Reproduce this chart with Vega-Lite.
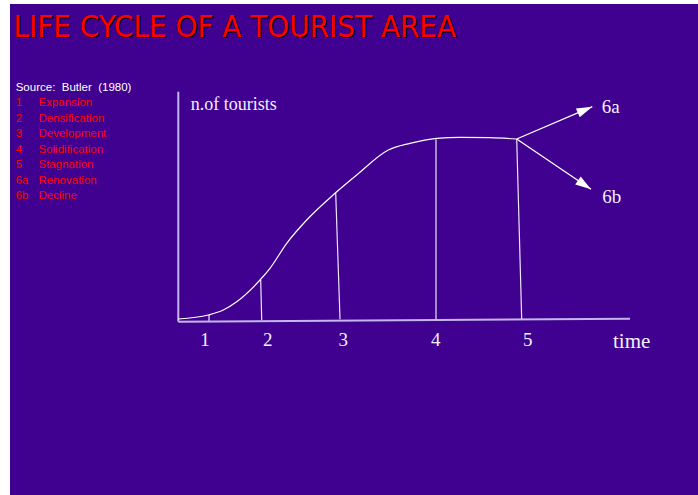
{
  "$schema": "https://vega.github.io/schema/vega-lite/v6.json",
  "width": 698,
  "height": 495,
  "autosize": {"type": "fit", "contains": "padding"},
  "padding": {"left": 10, "top": 4, "right": 0, "bottom": 0},
  "background": "#ffffff",
  "config": {"view": {"fill": "#400090", "stroke": null}},
  "datasets": {
    "axes": [
      {"x": 0.3, "y": -0.7, "x2": 0.3, "y2": 229.3},
      {"x": 0.3, "y": -0.7, "x2": 452, "y2": 2.3}
    ],
    "phases": [
      {"x": 31, "y": 0.3, "x2": 31, "y2": 6},
      {"x": 83.7, "y": 1, "x2": 82.7, "y2": 41},
      {"x": 162, "y": 1.7, "x2": 157.7, "y2": 128.3},
      {"x": 258, "y": 1.7, "x2": 258, "y2": 181.7},
      {"x": 343.7, "y": 2, "x2": 338.7, "y2": 182}
    ],
    "curve": [
      {"x": 0, "y": 2},
      {"x": 30.3, "y": 6},
      {"x": 45.3, "y": 11},
      {"x": 58.7, "y": 19.3},
      {"x": 82, "y": 41},
      {"x": 92, "y": 52.7},
      {"x": 108.7, "y": 77.7},
      {"x": 128.7, "y": 101},
      {"x": 157, "y": 127.7},
      {"x": 178.7, "y": 146},
      {"x": 210.3, "y": 171},
      {"x": 232, "y": 177.7},
      {"x": 258.7, "y": 182.7},
      {"x": 282, "y": 183.7},
      {"x": 312, "y": 183.3},
      {"x": 338.7, "y": 182}
    ],
    "arrows": [
      {"id": "6a", "x": 338.7, "y": 182, "x2": 414.3, "y2": 214.3},
      {"id": "6b", "x": 338.7, "y": 182, "x2": 413, "y2": 131.7}
    ],
    "tips": [
      {"id": "6a", "x": 414.3, "y": 214.3},
      {"id": "6b", "x": 413, "y": 131.7}
    ],
    "title": [
      {"x": -164.5, "y": 284.3, "t": "LIFE CYCLE OF A TOURIST AREA"}
    ],
    "source": [
      {"x": -162.3, "y": 230, "t": "Source:\u00a0 Butler\u00a0 (1980)"}
    ],
    "legend": [
      {"x": -162.3, "x2": -139.5, "y": 215, "n": "1", "t": "Expansion"},
      {"x": -162.3, "x2": -139.5, "y": 199.5, "n": "2", "t": "Densification"},
      {"x": -162.3, "x2": -139.5, "y": 184, "n": "3", "t": "Development"},
      {"x": -162.3, "x2": -139.5, "y": 168.5, "n": "4", "t": "Solidification"},
      {"x": -162.3, "x2": -139.5, "y": 153, "n": "5", "t": "Stagnation"},
      {"x": -162.3, "x2": -139.5, "y": 137.5, "n": "6a", "t": "Renovation"},
      {"x": -162.3, "x2": -139.5, "y": 122, "n": "6b", "t": "Decline"}
    ],
    "stages": [
      {"x": 27, "y": -25, "t": "1"},
      {"x": 89.7, "y": -25, "t": "2"},
      {"x": 165.3, "y": -25, "t": "3"},
      {"x": 257.7, "y": -25, "t": "4"},
      {"x": 349.7, "y": -25, "t": "5"}
    ],
    "serif": [
      {"x": 12.7, "y": 211, "t": "n.of tourists", "k": "ylab"},
      {"x": 435, "y": -26.5, "t": "time", "k": "xlab"},
      {"x": 423.7, "y": 207.7, "t": "6a", "k": "out"},
      {"x": 424.3, "y": 117.7, "t": "6b", "k": "out"}
    ]
  },
  "encoding": {
    "x": {"field": "x", "type": "quantitative", "scale": {"domain": [-168, 520], "nice": false, "zero": false}, "axis": null},
    "y": {"field": "y", "type": "quantitative", "scale": {"domain": [-174, 317], "nice": false, "zero": false}, "axis": null}
  },
  "layer": [
    {
      "data": {"name": "axes"},
      "mark": {"type": "rule", "color": "#c4b6ea", "strokeWidth": 2},
      "encoding": {"x2": {"field": "x2"}, "y2": {"field": "y2"}}
    },
    {
      "data": {"name": "phases"},
      "mark": {"type": "rule", "color": "#ffffff", "strokeWidth": 1.2, "opacity": 0.9},
      "encoding": {"x2": {"field": "x2"}, "y2": {"field": "y2"}}
    },
    {
      "data": {"name": "curve"},
      "mark": {"type": "line", "color": "#ffffff", "strokeWidth": 1.2, "interpolate": "monotone"},
      "encoding": {"order": {"field": "x", "type": "quantitative"}}
    },
    {
      "data": {"name": "arrows"},
      "mark": {"type": "rule", "color": "#ffffff", "strokeWidth": 1.3},
      "encoding": {"x2": {"field": "x2"}, "y2": {"field": "y2"}}
    },
    {
      "data": {"name": "tips"},
      "transform": [{"filter": "datum.id === '6a'"}],
      "mark": {"type": "point", "shape": "M0,0L0.65,2.1L-0.65,2.1Z", "size": 225, "filled": true, "color": "#ffffff", "opacity": 1, "angle": 66.9}
    },
    {
      "data": {"name": "tips"},
      "transform": [{"filter": "datum.id === '6b'"}],
      "mark": {"type": "point", "shape": "M0,0L0.65,2.1L-0.65,2.1Z", "size": 225, "filled": true, "color": "#ffffff", "opacity": 1, "angle": 124.1}
    },
    {
      "data": {"name": "title"},
      "mark": {"type": "text", "align": "left", "baseline": "alphabetic", "font": "DejaVu Sans Condensed, sans-serif", "fontSize": 31, "color": "#000000", "dx": 1.5, "dy": 1.5},
      "encoding": {"text": {"field": "t"}}
    },
    {
      "data": {"name": "title"},
      "mark": {"type": "text", "align": "left", "baseline": "alphabetic", "font": "DejaVu Sans Condensed, sans-serif", "fontSize": 31, "color": "#ff0000"},
      "encoding": {"text": {"field": "t"}}
    },
    {
      "data": {"name": "source"},
      "mark": {"type": "text", "align": "left", "baseline": "alphabetic", "font": "Liberation Sans", "fontSize": 11.5, "color": "#ffffff"},
      "encoding": {"text": {"field": "t"}}
    },
    {
      "data": {"name": "legend"},
      "mark": {"type": "text", "align": "left", "baseline": "alphabetic", "font": "Liberation Sans", "fontSize": 11.5, "color": "#ff0000"},
      "encoding": {"text": {"field": "n"}}
    },
    {
      "data": {"name": "legend"},
      "mark": {"type": "text", "align": "left", "baseline": "alphabetic", "font": "Liberation Sans", "fontSize": 11.5, "color": "#ff0000"},
      "encoding": {"x": {"field": "x2", "type": "quantitative"}, "text": {"field": "t"}}
    },
    {
      "data": {"name": "stages"},
      "mark": {"type": "text", "align": "center", "baseline": "alphabetic", "font": "Liberation Serif", "fontSize": 19, "color": "#f2efff"},
      "encoding": {"text": {"field": "t"}}
    },
    {
      "data": {"name": "serif"},
      "transform": [{"filter": "datum.k === 'ylab'"}],
      "mark": {"type": "text", "align": "left", "baseline": "alphabetic", "font": "Liberation Serif", "fontSize": 18, "color": "#f2efff"},
      "encoding": {"text": {"field": "t"}}
    },
    {
      "data": {"name": "serif"},
      "transform": [{"filter": "datum.k === 'xlab'"}],
      "mark": {"type": "text", "align": "left", "baseline": "alphabetic", "font": "Liberation Serif", "fontSize": 21, "color": "#f2efff"},
      "encoding": {"text": {"field": "t"}}
    },
    {
      "data": {"name": "serif"},
      "transform": [{"filter": "datum.k === 'out'"}],
      "mark": {"type": "text", "align": "left", "baseline": "alphabetic", "font": "Liberation Serif", "fontSize": 19, "color": "#f2efff"},
      "encoding": {"text": {"field": "t"}}
    }
  ]
}
